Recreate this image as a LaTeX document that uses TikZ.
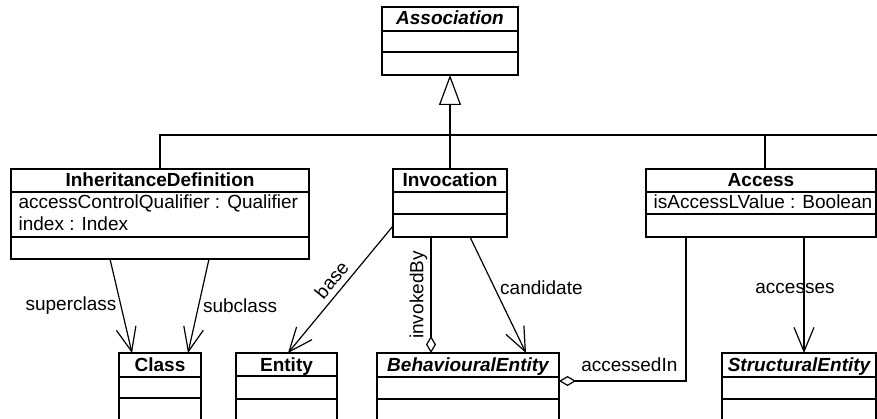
\documentclass[tikz,border=0pt]{standalone}
\usepackage{fontspec}
\setmainfont{Liberation Sans}
\usetikzlibrary{arrows.meta,calc}
\begin{document}
\begin{tikzpicture}[x=1pt,y=-1pt,line width=1.2pt,
  box/.style={draw,rectangle,anchor=north west,inner sep=0pt,outer sep=0pt},
  hdr/.style={font=\fontsize{19}{22}\selectfont\bfseries,inner sep=0pt,anchor=base},
  hdri/.style={font=\fontsize{19}{22}\selectfont\bfseries\itshape,inner sep=0pt,anchor=base},
  attr/.style={font=\fontsize{19}{22}\selectfont,inner sep=0pt,anchor=base west},
  lbl/.style={font=\fontsize{19}{22}\selectfont,inner sep=4pt},
  nav/.style={-{Straight Barb[length=24pt,width=20pt]}},
  agg/.style={-{Diamond[open,length=17pt,width=10pt]}},
  gen/.style={-{Triangle[open,length=30pt,width=22pt]}}]
\clip (0,0) rectangle (877,419);
\fill[white] (0,0) rectangle (877,419);

% Association
\node[box,minimum width=136pt,minimum height=68pt] (assoc) at (382,7) {};
\draw ([yshift=-24pt]assoc.north west) -- ([yshift=-24pt]assoc.north east);
\draw ([yshift=-45pt]assoc.north west) -- ([yshift=-45pt]assoc.north east);
\node[hdri] (assoc-t) at ([yshift=-18pt]assoc.north) {Association};

% InheritanceDefinition
\node[box,minimum width=298pt,minimum height=90pt] (inh) at (11,169) {};
\draw ([yshift=-23pt]inh.north west) -- ([yshift=-23pt]inh.north east);
\draw ([yshift=-68pt]inh.north west) -- ([yshift=-68pt]inh.north east);
\node[hdr] (inh-t) at ([yshift=-17.5pt]inh.north) {InheritanceDefinition};
\node[attr] (inh-a1) at ([xshift=7pt,yshift=-40pt]inh.north west) {accessControlQualifier : Qualifier};
\node[attr] (inh-a2) at ([xshift=7pt,yshift=-62pt]inh.north west) {index : Index};

% Invocation
\node[box,minimum width=114pt,minimum height=68pt] (inv) at (393,169) {};
\draw ([yshift=-23pt]inv.north west) -- ([yshift=-23pt]inv.north east);
\draw ([yshift=-45pt]inv.north west) -- ([yshift=-45pt]inv.north east);
\node[hdr] (inv-t) at ([yshift=-17.5pt]inv.north) {Invocation};

% Access
\node[box,minimum width=230pt,minimum height=68pt] (acc) at (646,169) {};
\draw ([yshift=-23pt]acc.north west) -- ([yshift=-23pt]acc.north east);
\draw ([yshift=-45pt]acc.north west) -- ([yshift=-45pt]acc.north east);
\node[hdr] (acc-t) at ([yshift=-17.5pt]acc.north) {Access};
\node[attr] (acc-a1) at ([xshift=7pt,yshift=-40pt]acc.north west) {isAccessLValue : Boolean};

% Class
\node[box,minimum width=82pt,minimum height=80pt] (cls) at (119,353) {};
\draw ([yshift=-24pt]cls.north west) -- ([yshift=-24pt]cls.north east);
\draw ([yshift=-45pt]cls.north west) -- ([yshift=-45pt]cls.north east);
\node[hdr] (cls-t) at ([yshift=-18pt]cls.north) {Class};

% Entity
\node[box,minimum width=101pt,minimum height=80pt] (ent) at (236,353) {};
\draw ([yshift=-23pt]ent.north west) -- ([yshift=-23pt]ent.north east);
\draw ([yshift=-46pt]ent.north west) -- ([yshift=-46pt]ent.north east);
\node[hdr] (ent-t) at ([yshift=-18pt]ent.north) {Entity};

% BehaviouralEntity
\node[box,minimum width=182pt,minimum height=80pt] (beh) at (377,353) {};
\draw ([yshift=-24pt]beh.north west) -- ([yshift=-24pt]beh.north east);
\draw ([yshift=-46pt]beh.north west) -- ([yshift=-46pt]beh.north east);
\node[hdri] (beh-t) at ([yshift=-18pt]beh.north) {BehaviouralEntity};

% StructuralEntity
\node[box,minimum width=154pt,minimum height=80pt] (str) at (722,353) {};
\draw ([yshift=-24pt]str.north west) -- ([yshift=-24pt]str.north east);
\draw ([yshift=-46pt]str.north west) -- ([yshift=-46pt]str.north east);
\node[hdri] (str-t) at ([yshift=-18pt]str.north) {StructuralEntity};

% Generalization tree
\coordinate (busR) at (877,135);
\draw (inh.north) |- (busR);
\draw ([xshift=4pt]acc.north) -- ([xshift=4pt]acc.north |- busR);
\draw[gen] (inv.north) -- (inv.north |- assoc.south);

% Associations
\draw[nav] ([xshift=99pt]inh.south west) -- node[lbl,anchor=east] {superclass} ([xshift=13pt]cls.north west);
\draw[nav] ([xshift=198pt]inh.south west) -- node[lbl,anchor=west] {subclass} ([xshift=69pt]cls.north west);
\draw[nav] ([yshift=11pt]inv.south west) -- node[lbl,sloped,above,pos=.49,inner sep=5.5pt] {base} ([xshift=52pt]ent.north west);
\draw[agg] ([xshift=38pt]inv.south west) -- node[lbl,rotate=90,anchor=south,inner sep=3pt] {invokedBy} ([xshift=54pt]beh.north west);
\draw[nav] ([xshift=77pt]inv.south west) -- node[lbl,anchor=west,pos=.44,inner sep=5pt] {candidate} ([xshift=149pt]beh.north west);
\draw[agg] ([xshift=40pt]acc.south west) |- node[lbl,pos=.5,anchor=south east,inner sep=0pt,xshift=-8pt,yshift=9pt] {accessedIn} ([yshift=-28pt]beh.north east);
\draw[nav] ([xshift=158pt]acc.south west) -- node[lbl,pos=.44,xshift=-9pt] {accesses} ([xshift=82pt]str.north west);
\end{tikzpicture}
\end{document}
